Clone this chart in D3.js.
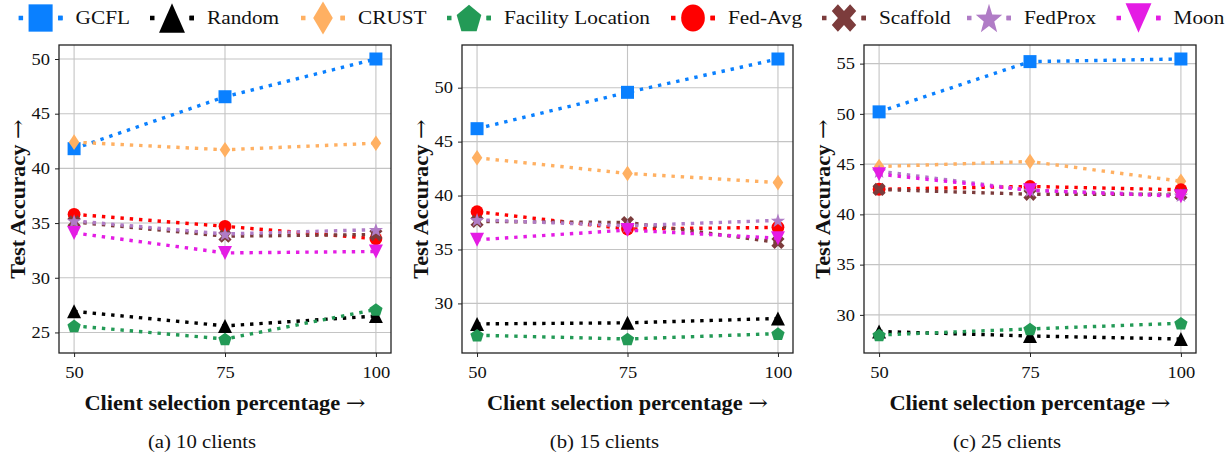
<!DOCTYPE html>
<html>
<head>
<meta charset="utf-8">
<script src="https://cdn.jsdelivr.net/npm/d3@7"></script>
<style>
  html, body { margin: 0; padding: 0; background: #fff; }
  svg text { font-family: "Liberation Serif", "Times New Roman", serif; fill: #111; }
</style>
</head>
<body>
<svg id="chart" width="1229" height="455"></svg>
<script>
// Client selection percentages on the x axis
const categories = [50, 75, 100];
const xTicks = [50, 75, 100];
const yTicks = [[25, 30, 35, 40, 45, 50], [30, 35, 40, 45, 50], [30, 35, 40, 45, 50, 55]];
const panelTitles = ["(a) 10 clients", "(b) 15 clients", "(c) 25 clients"];
const xTitle = "Client selection percentage";
const yTitle = "Test Accuracy";
const seriesNames = ["GCFL", "Random", "CRUST", "Facility Location", "Fed-Avg", "Scaffold", "FedProx", "Moon"];
const seriesColors = ["#0a80ff", "#000000", "#ffb062", "#239a56", "#ff0000", "#7c3c3c", "#b07cc6", "#e41ce4"];
const seriesMarkers = ["square", "triangleUp", "thinDiamond", "pentagon", "circle", "xFilled", "star", "triangleDown"];

// Test accuracy per method: one row per panel (10, 15, 25 clients), one value per percentage
const GCFL     = [[41.8, 46.55, 50.0], [46.2, 49.57, 52.66], [50.2, 55.2, 55.46]];
const Random   = [[26.93, 25.6, 26.5], [28.1, 28.2, 28.6], [28.35, 27.9, 27.6]];
const CRUST    = [[42.4, 41.7, 42.3], [43.5, 42.05, 41.2], [44.76, 45.26, 43.3]];
const Facility = [[25.6, 24.4, 27.1], [27.05, 26.7, 27.2], [28.0, 28.6, 29.17]];
const FedAvg   = [[35.8, 34.7, 33.56], [38.5, 36.9, 37.05], [42.5, 42.78, 42.45]];
const Scaffold = [[35.1, 33.8, 33.95], [37.6, 37.5, 35.66], [42.48, 42.0, 42.0]];
const FedProx  = [[35.2, 34.0, 34.4], [37.76, 37.2, 37.7], [44.3, 42.4, 41.9]];
const Moon     = [[34.1, 32.27, 32.4], [35.9, 36.8, 36.05], [44.0, 42.4, 41.8]];
const seriesValues = [GCFL, Random, CRUST, Facility, FedAvg, Scaffold, FedProx, Moon];

const svg = d3.select("#chart");
const WIDEN = 1.12; // widen Times-like glyphs toward Computer Modern proportions

function widen(sel) {
  sel.each(function () {
    const w = this.getComputedTextLength();
    d3.select(this).attr("textLength", w * WIDEN).attr("lengthAdjust", "spacingAndGlyphs");
  });
}

// Title text followed by a long arrow glyph
function titleWithArrow(sel, label) {
  sel.append("tspan").text(label + " ");
  sel.append("tspan").attr("font-family", "DejaVu Serif").attr("font-weight", "normal")
    .attr("font-size", "1.05em").text("→");
}

// Marker glyphs modelled on the matplotlib shapes; r = half-size in px
function markerPath(type, r) {
  const p = d3.path();
  const poly = pts => { pts.forEach((q, i) => i ? p.lineTo(q[0], q[1]) : p.moveTo(q[0], q[1])); p.closePath(); };
  switch (type) {
    case "square": poly([[-r, -r], [r, -r], [r, r], [-r, r]]); break;
    case "triangleUp": poly([[0, -r], [r, r], [-r, r]]); break;
    case "triangleDown": poly([[0, r], [r, -r], [-r, -r]]); break;
    case "thinDiamond": poly([[0, -r], [0.68 * r, 0], [0, r], [-0.68 * r, 0]]); break;
    case "pentagon": poly(d3.range(5).map(i => { const a = -Math.PI / 2 + i * 2 * Math.PI / 5; return [r * Math.cos(a), r * Math.sin(a) + 0.1 * r]; })); break;
    case "circle": p.arc(0, 0, r, 0, 2 * Math.PI); break;
    case "star": poly(d3.range(10).map(i => { const rr = i % 2 ? r * 0.40 : r; const a = -Math.PI / 2 + i * Math.PI / 5; return [rr * Math.cos(a), rr * Math.sin(a) + 0.1 * r]; })); break;
    case "xFilled": {
      const h = r / 2;
      poly([[h, 0], [r, h], [h, r], [0, h], [-h, r], [-r, h], [-h, 0], [-r, -h], [-h, -r], [0, -h], [h, -r], [r, -h]]);
      break;
    }
  }
  return p.toString();
}
const markerSize = { square: 6.5, triangleUp: 7, triangleDown: 7, thinDiamond: 7.8, pentagon: 7, circle: 6.4, xFilled: 6.6, star: 7.5 };

// ----- panels -----
const panels = [
  { left: 59, right: 391 },
  { left: 462, right: 793 },
  { left: 864, right: 1196 }
];
const plotTop = 45, plotBottom = 353;

panels.forEach((pn, pi) => {
  const g = svg.append("g");
  const all = seriesValues.flatMap(s => s[pi]);
  const [lo, hi] = d3.extent(all);
  const pad = (hi - lo) * 0.05;
  const x = d3.scaleLinear().domain([47.5, 102.5]).range([pn.left, pn.right]);
  const y = d3.scaleLinear().domain([lo - pad, hi + pad]).range([plotBottom, plotTop]);

  // grid
  g.append("g").selectAll("line").data(yTicks[pi]).join("line")
    .attr("x1", pn.left).attr("x2", pn.right)
    .attr("y1", d => y(d)).attr("y2", d => y(d))
    .attr("stroke", "#c4c4c4").attr("stroke-width", 1.1);
  g.append("g").selectAll("line").data(xTicks).join("line")
    .attr("x1", d => x(d)).attr("x2", d => x(d))
    .attr("y1", plotTop).attr("y2", plotBottom)
    .attr("stroke", "#c4c4c4").attr("stroke-width", 1.1);

  // axes
  const ax = g.append("g").attr("transform", `translate(0,${plotBottom})`)
    .call(d3.axisBottom(x).tickValues(xTicks).tickSize(4).tickPadding(6).tickFormat(d3.format("d")));
  const ay = g.append("g").attr("transform", `translate(${pn.left},0)`)
    .call(d3.axisLeft(y).tickValues(yTicks[pi]).tickSize(4).tickPadding(5).tickFormat(d3.format("d")));
  [ax, ay].forEach(a => {
    a.select(".domain").remove();
    a.selectAll(".tick line").attr("stroke", "#222").attr("stroke-width", 1);
    a.selectAll(".tick text").attr("font-size", 16.5).attr("font-family", "Liberation Serif").attr("fill", "#111").call(widen);
  });
  ax.selectAll(".tick text").attr("dy", "0.9em");

  // series
  seriesNames.forEach((name, si) => {
    const vals = seriesValues[si][pi];
    const pts = categories.map((c, i) => [x(c), y(vals[i])]);
    const sg = g.append("g");
    sg.append("path").attr("d", d3.line()(pts))
      .attr("fill", "none").attr("stroke", seriesColors[si])
      .attr("stroke-width", 3.4).attr("stroke-dasharray", "3.4 5.9");
    sg.selectAll("path.m").data(pts).join("path").attr("class", "m")
      .attr("transform", d => `translate(${d[0]},${d[1]})`)
      .attr("d", markerPath(seriesMarkers[si], markerSize[seriesMarkers[si]]))
      .attr("fill", seriesColors[si]);
  });

  // frame
  g.append("rect").attr("x", pn.left).attr("y", plotTop)
    .attr("width", pn.right - pn.left).attr("height", plotBottom - plotTop)
    .attr("fill", "none").attr("stroke", "#222").attr("stroke-width", 1.3);

  // axis titles
  const cx = (pn.left + pn.right) / 2;
  g.append("text").attr("x", cx).attr("y", 410).attr("text-anchor", "middle")
    .attr("font-size", 20).attr("font-weight", "bold")
    .call(titleWithArrow, xTitle).call(widen);
  g.append("text").attr("transform", `translate(${pn.left - 34},${(plotTop + plotBottom) / 2}) rotate(-90)`)
    .attr("text-anchor", "middle").attr("font-size", 20).attr("font-weight", "bold")
    .call(titleWithArrow, yTitle).call(widen);
  g.append("text").attr("x", cx - 23).attr("y", 448).attr("text-anchor", "middle")
    .attr("font-size", 18.5).text(panelTitles[pi]).call(widen);
});

// ----- legend -----
const legendX = [18.6, 150, 301, 447, 671, 822, 967, 1116.5];
const lg = svg.append("g");
seriesNames.forEach((name, si) => {
  const x0 = legendX[si], ly = 18;
  const item = lg.append("g").attr("transform", `translate(${x0},${ly})`);
  item.append("line").attr("x1", 0).attr("x2", 44).attr("y1", 0).attr("y2", 0)
    .attr("stroke", seriesColors[si]).attr("stroke-width", 4.5).attr("stroke-dasharray", "4.5 35");
  item.append("line").attr("x1", 44).attr("x2", 39.5).attr("y1", 0).attr("y2", 0)
    .attr("stroke", seriesColors[si]).attr("stroke-width", 4.5);
  item.append("path").attr("transform", "translate(22,0) scale(1.85,2.1)")
    .attr("d", markerPath(seriesMarkers[si], markerSize[seriesMarkers[si]]))
    .attr("fill", seriesColors[si]);
  item.append("text").attr("x", 57).attr("y", 0).attr("dy", "0.33em")
    .attr("font-size", 19).text(name).call(widen);
});
</script>
</body>
</html>
